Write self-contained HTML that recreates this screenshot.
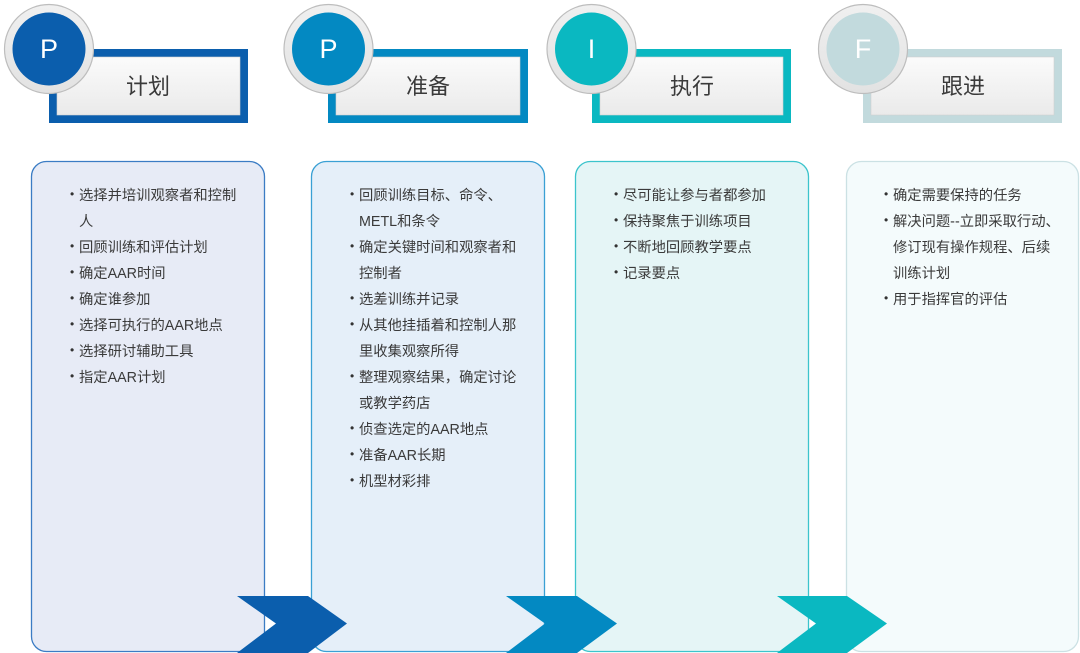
<!DOCTYPE html>
<html><head><meta charset="utf-8">
<style>
html,body{margin:0;padding:0;background:#fff;}
body{width:1080px;height:653px;position:relative;overflow:hidden;font-family:"Liberation Sans","Noto Sans CJK SC",sans-serif;}
svg{position:absolute;left:0;top:0;}
.t{position:absolute;font-size:14.3px;line-height:26px;color:#3a3a3a;white-space:nowrap;font-family:"Liberation Sans","Noto Sans CJK SC",sans-serif;}
.t div{position:relative;height:26px;}
.t div.b::before{content:"•";position:absolute;left:-9px;top:-2px;font-size:12px;color:#333;}
.h{position:absolute;font-size:22px;color:#3a3a3a;text-align:center;width:200px;height:74px;line-height:74px;font-family:"Liberation Sans","Noto Sans CJK SC",sans-serif;}
.c{position:absolute;width:74px;height:74px;line-height:74px;text-align:center;color:#fff;font-size:27px;font-family:"Liberation Sans","DejaVu Sans",sans-serif;}
</style></head>
<body>
<svg width="1080" height="653" viewBox="0 0 1080 653">
<defs>
<linearGradient id="g" x1="0" y1="0" x2="0" y2="1">
<stop offset="0" stop-color="#fbfbfb"/><stop offset="1" stop-color="#eaeaea"/>
</linearGradient>
<linearGradient id="rg" x1="0" y1="0" x2="0" y2="1">
<stop offset="0" stop-color="#f0f0f0"/><stop offset="1" stop-color="#e2e2e2"/>
</linearGradient>
</defs>
<rect x="31.5" y="161.5" width="233" height="490" rx="15" fill="#e7ebf6" stroke="#3b7cc4" stroke-width="1.3"/>
<rect x="311.5" y="161.5" width="233" height="490" rx="15" fill="#e5eff9" stroke="#3aa0d4" stroke-width="1.3"/>
<rect x="575.5" y="161.5" width="233" height="490" rx="15" fill="#e5f5f6" stroke="#3cc4cc" stroke-width="1.3"/>
<rect x="846.5" y="161.5" width="232" height="490" rx="15" fill="#f4fbfc" stroke="#cbe1e4" stroke-width="1.3"/>
<polygon points="237,596 308,596 347,623.5 308,653 237,653 276,623.5" fill="#0b5ead"/>
<polygon points="506,596 577,596 617,623.5 577,653 506,653 545,623.5" fill="#0389c2"/>
<polygon points="777,596 847,596 887,623.5 847,653 777,653 816,623.5" fill="#0ab8c1"/>
<rect x="49" y="49" width="199" height="74" fill="#0b5ead"/>
<rect x="57" y="57" width="183" height="58" fill="url(#g)" stroke="#d0d0d0" stroke-width="0.6"/>
<rect x="328" y="49" width="200" height="74" fill="#0389c2"/>
<rect x="336" y="57" width="184" height="58" fill="url(#g)" stroke="#d0d0d0" stroke-width="0.6"/>
<rect x="592" y="49" width="199" height="74" fill="#0ab8c1"/>
<rect x="600" y="57" width="183" height="58" fill="url(#g)" stroke="#d0d0d0" stroke-width="0.6"/>
<rect x="863" y="49" width="199" height="74" fill="#c2dadd"/>
<rect x="871" y="57" width="183" height="58" fill="url(#g)" stroke="#d0d0d0" stroke-width="0.6"/>
<circle cx="49" cy="49" r="44.5" fill="url(#rg)" stroke="#bdbdbd" stroke-width="1.2"/>
<circle cx="49" cy="49" r="36.5" fill="#0b5ead"/>
<circle cx="328.5" cy="49" r="44.5" fill="url(#rg)" stroke="#bdbdbd" stroke-width="1.2"/>
<circle cx="328.5" cy="49" r="36.5" fill="#0389c2"/>
<circle cx="591.5" cy="49" r="44.5" fill="url(#rg)" stroke="#bdbdbd" stroke-width="1.2"/>
<circle cx="591.5" cy="49" r="36.5" fill="#0ab8c1"/>
<circle cx="863" cy="49" r="44.5" fill="url(#rg)" stroke="#bdbdbd" stroke-width="1.2"/>
<circle cx="863" cy="49" r="36.5" fill="#c2dadd"/>
</svg>

<div class="c" style="left:12px;top:12px;">P</div>
<div class="c" style="left:291.5px;top:12px;">P</div>
<div class="c" style="left:554.5px;top:12px;">I</div>
<div class="c" style="left:826px;top:12px;">F</div>

<div class="h" style="left:48px;top:50px;">计划</div>
<div class="h" style="left:328px;top:50px;">准备</div>
<div class="h" style="left:592px;top:50px;">执行</div>
<div class="h" style="left:863px;top:50px;">跟进</div>

<div class="t" style="left:79px;top:183px;">
<div class="b">选择并培训观察者和控制</div>
<div>人</div>
<div class="b">回顾训练和评估计划</div>
<div class="b">确定AAR时间</div>
<div class="b">确定谁参加</div>
<div class="b">选择可执行的AAR地点</div>
<div class="b">选择研讨辅助工具</div>
<div class="b">指定AAR计划</div>
</div>

<div class="t" style="left:359px;top:183px;">
<div class="b">回顾训练目标、命令、</div>
<div>METL和条令</div>
<div class="b">确定关键时间和观察者和</div>
<div>控制者</div>
<div class="b">选差训练并记录</div>
<div class="b">从其他挂插着和控制人那</div>
<div>里收集观察所得</div>
<div class="b">整理观察结果，确定讨论</div>
<div>或教学药店</div>
<div class="b">侦查选定的AAR地点</div>
<div class="b">准备AAR长期</div>
<div class="b">机型材彩排</div>
</div>

<div class="t" style="left:623px;top:183px;">
<div class="b">尽可能让参与者都参加</div>
<div class="b">保持聚焦于训练项目</div>
<div class="b">不断地回顾教学要点</div>
<div class="b">记录要点</div>
</div>

<div class="t" style="left:893px;top:183px;">
<div class="b">确定需要保持的任务</div>
<div class="b">解决问题--立即采取行动、</div>
<div>修订现有操作规程、后续</div>
<div>训练计划</div>
<div class="b">用于指挥官的评估</div>
</div>
</body></html>
